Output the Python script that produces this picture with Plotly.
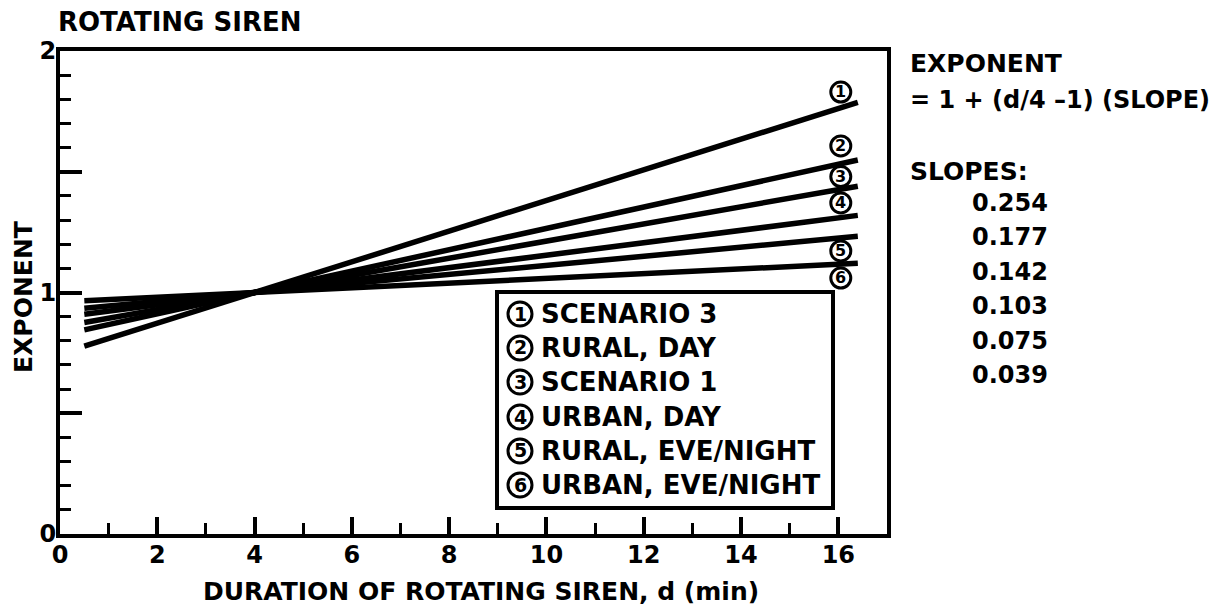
import plotly.graph_objects as go

# Duration span covered by each fitted line (minutes)
d_start, d_end = 0.5, 16.4

# Slope of each scenario's exponent line (EXPONENT = 1 + (d/4 - 1) * SLOPE)
slopes = [0.254, 0.177, 0.142, 0.103, 0.075, 0.039]
tag_numbers = ["1", "2", "3", "4", "5", "6"]
scenarios = ["SCENARIO 3", "RURAL, DAY", "SCENARIO 1", "URBAN, DAY",
             "RURAL, EVE/NIGHT", "URBAN, EVE/NIGHT"]

# Axis ticks
x_tick_vals = [0, 2, 4, 6, 8, 10, 12, 14, 16]
y_tick_vals = [0, 0.5, 1, 1.5, 2]
y_tick_text = ["0", "", "1", "", "2"]

# Placement of the circled tags next to the line ends (data units)
tag_x = 16.05
tag_y = [1.830, 1.607, 1.480, 1.371, 1.172, 1.060]

FONT = "DejaVu Sans"
W, H = 1228, 608
L, R, T, B = 60, 341, 51, 74
PW, PH = W - L - R, H - T - B


def xp(px):
    return (px - L) / PW


def yp(py):
    return (H - B - py) / PH


def exponent(d, slope):
    return 1 + (d / 4 - 1) * slope


def bold(size):
    return dict(family=FONT, size=size, color="black", weight="bold")


fig = go.Figure()
for s, name in zip(slopes, scenarios):
    xs = [d_start, d_end]
    fig.add_trace(go.Scatter(
        x=xs, y=[exponent(d, s) for d in xs], mode="lines", name=name,
        line=dict(color="black", width=5.5), hoverinfo="skip"))

annotations = []
shapes = []


def circled(x, y, num, radius, size, xref, yref):
    """A number inside a ring, centred on (x, y)."""
    shapes.append(dict(type="circle", xref=xref, yref=yref,
                       xsizemode="pixel", ysizemode="pixel",
                       xanchor=x, yanchor=y, x0=-radius, x1=radius,
                       y0=-radius, y1=radius,
                       line=dict(color="black", width=3)))
    annotations.append(dict(x=x, y=y, xref=xref, yref=yref, text=num,
                            showarrow=False, xanchor="center",
                            yanchor="middle", yshift=0.5, font=bold(size)))


# Tags at the right-hand ends of the lines
for num, y in zip(tag_numbers, tag_y):
    circled(tag_x, y, num, 10, 16, "x", "y")

# Legend box with circled keys
shapes.append(dict(type="rect", xref="paper", yref="paper",
                   x0=xp(497), x1=xp(833), y0=yp(508), y1=yp(292),
                   line=dict(color="black", width=4), fillcolor="white",
                   layer="above"))
legend_row_y = [314, 348, 382, 417, 451, 485]
for num, name, py in zip(tag_numbers, scenarios, legend_row_y):
    circled(xp(520), yp(py), num, 12, 19, "paper", "paper")
    annotations.append(dict(x=xp(539), y=yp(py), xref="paper", yref="paper",
                            text=name, xanchor="left", yanchor="middle",
                            showarrow=False, font=bold(26)))

# Titles and side notes
side_notes = [
    dict(x=xp(56), y=yp(22), text="ROTATING SIREN", xanchor="left", size=26),
    dict(x=xp(908), y=yp(64), text="EXPONENT", xanchor="left", size=25),
    dict(x=xp(908), y=yp(100), text="= 1 + (d/4 \u20131) (SLOPE)",
         xanchor="left", size=24),
    dict(x=xp(908), y=yp(172), text="SLOPES:", xanchor="left", size=25),
    dict(x=xp(481), y=yp(591), text="DURATION OF ROTATING SIREN, d (min)",
         xanchor="center", size=25),
    dict(x=xp(23), y=yp(297), text="EXPONENT", xanchor="center",
         textangle=-90, size=25),
]
for a in side_notes:
    size = a.pop("size")
    a.update(xref="paper", yref="paper", yanchor="middle", showarrow=False,
             font=bold(size))
    annotations.append(a)

# Slope values listed under "SLOPES:"
slope_rows_y = [203, 237, 272, 306, 341, 375]
for s, py in zip(slopes, slope_rows_y):
    annotations.append(dict(
        x=xp(1010), y=yp(py), xref="paper", yref="paper", xanchor="center",
        yanchor="middle", showarrow=False, text=f"{s:.3f}", font=bold(24)))

tick_style = dict(ticks="inside", tickwidth=3.5, tickcolor="black",
                  showgrid=False, zeroline=False, fixedrange=True)
minor_style = dict(ticks="inside", tickwidth=3, tickcolor="black", ticklen=11)

x_axis = dict(range=[0, 17], tickvals=x_tick_vals, ticklen=17,
              minor=dict(dtick=1, **minor_style), **tick_style)
y_axis = dict(range=[0, 2], tickvals=y_tick_vals, ticktext=y_tick_text,
              ticklen=22, minor=dict(dtick=0.1, **minor_style), **tick_style)

fig.update_layout(
    width=W, height=H, margin=dict(l=L, r=R, t=T, b=B),
    paper_bgcolor="white", plot_bgcolor="white", showlegend=False,
    xaxis=dict(showline=True, linewidth=4, linecolor="black", mirror=True,
               ticklabelstandoff=-4, tickfont=bold(24), **x_axis),
    yaxis=dict(showline=True, linewidth=4, linecolor="black", mirror=True,
               ticklabelstandoff=-5, tickfont=bold(24), **y_axis),
    # Tick marks repeated along the top and right frame edges
    xaxis2=dict(overlaying="x", side="top", anchor="y", showline=False,
                showticklabels=False, **x_axis),
    yaxis2=dict(overlaying="y", side="right", anchor="x", showline=False,
                showticklabels=False, **y_axis),
    shapes=shapes,
    annotations=annotations,
)

fig.write_html("out.html")
